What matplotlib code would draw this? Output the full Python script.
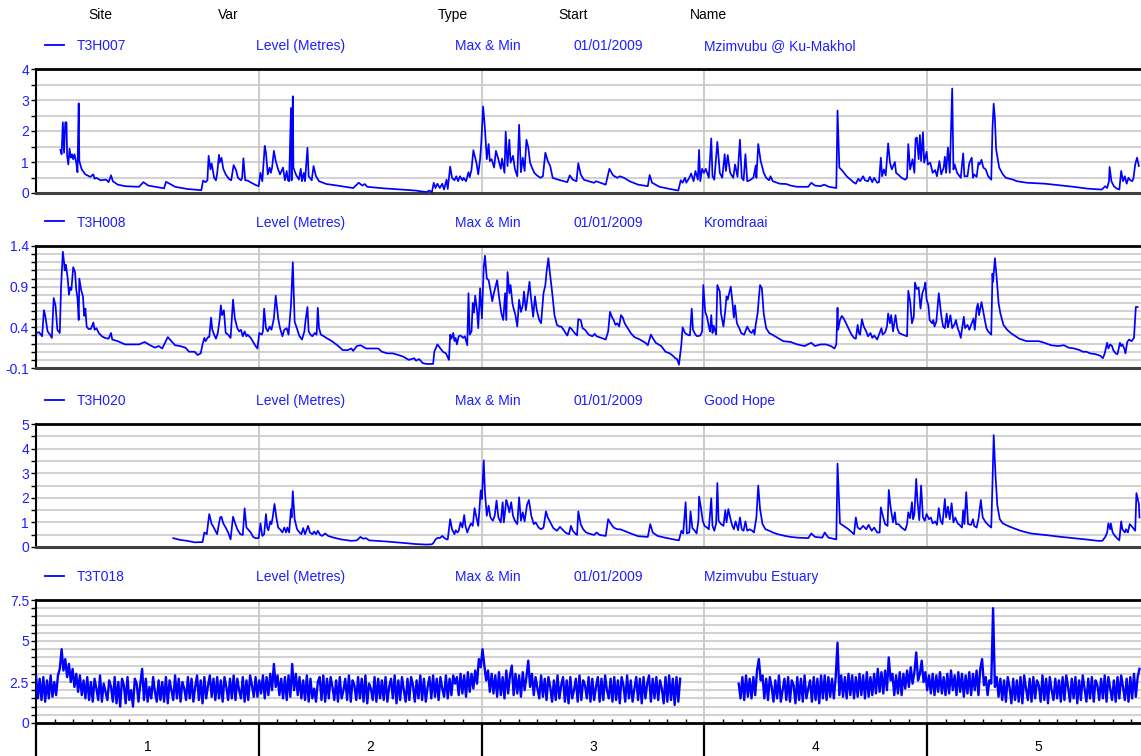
import numpy as np
import matplotlib
matplotlib.use("Agg")
import matplotlib.pyplot as plt
from matplotlib.ticker import FixedLocator, FuncFormatter
from matplotlib.lines import Line2D
import matplotlib.transforms as mtransforms

plt.rcParams['font.family'] = ['Liberation Sans', 'DejaVu Sans']

# ---------------- text content ----------------
header_cols = ['Site', 'Var', 'Type', 'Start', 'Name']
sites = ['T3H007', 'T3H008', 'T3H020', 'T3T018']
variables = ['Level (Metres)'] * 4
types = ['Max & Min'] * 4
starts = ['01/01/2009'] * 4
names = ['Mzimvubu @ Ku-Makhol', 'Kromdraai', 'Good Hope', 'Mzimvubu Estuary']
year_labels = ['1', '2', '3', '4', '5']

# ---------------- data (day since 01/01/2009, level in metres) ----------------
h007_day = [
    40, 42, 44, 46, 48, 50, 51, 53, 55, 57,
    59, 61, 63, 66, 68, 70, 71, 75, 81, 89,
    94, 96, 99, 106, 115, 119, 123, 126, 134, 146,
    169, 176, 184, 210, 213, 220, 228, 248, 271, 274,
    278, 281, 283, 286, 288, 292, 295, 297, 300, 301,
    304, 307, 311, 316, 320, 324, 328, 331, 336, 338,
    340, 343, 347, 353, 360, 365, 368, 371, 375, 377,
    380, 383, 385, 387, 390, 393, 397, 400, 405, 408,
    411, 413, 415, 418, 419, 421, 422, 426, 431, 434,
    436, 439, 441, 445, 447, 452, 455, 459, 464, 476,
    494, 520, 529, 535, 539, 543, 570, 599, 622, 640,
    645, 649, 652, 655, 658, 662, 666, 669, 673, 675,
    679, 682, 686, 689, 692, 695, 699, 701, 705, 709,
    711, 714, 717, 722, 725, 728, 730, 733, 736, 739,
    742, 744, 747, 751, 754, 758, 762, 764, 768, 770,
    773, 776, 778, 782, 785, 789, 792, 795, 798, 801,
    804, 807, 810, 813, 817, 821, 827, 831, 835, 839,
    843, 847, 856, 865, 871, 875, 880, 886, 889, 893,
    898, 906, 915, 918, 934, 940, 946, 953, 957, 964,
    973, 987, 1003, 1006, 1010, 1022, 1039, 1053, 1057, 1060,
    1064, 1066, 1071, 1074, 1078, 1081, 1085, 1087, 1089, 1092,
    1095, 1098, 1103, 1107, 1109, 1112, 1117, 1121, 1125, 1129,
    1131, 1134, 1138, 1143, 1146, 1150, 1154, 1157, 1160, 1163,
    1166, 1170, 1176, 1180, 1181, 1184, 1188, 1193, 1197, 1202,
    1204, 1208, 1219, 1230, 1237, 1248, 1266, 1271, 1277, 1286,
    1292, 1300, 1312, 1314, 1317, 1321, 1329, 1340, 1344, 1348,
    1351, 1356, 1359, 1364, 1367, 1371, 1374, 1379, 1382, 1385,
    1387, 1390, 1393, 1397, 1400, 1403, 1408, 1410, 1415, 1419,
    1425, 1428, 1430, 1433, 1437, 1440, 1442, 1444, 1447, 1449,
    1451, 1454, 1456, 1460, 1462, 1466, 1470, 1474, 1477, 1481,
    1484, 1488, 1490, 1492, 1495, 1498, 1502, 1504, 1506, 1510,
    1516, 1520, 1522, 1527, 1530, 1534, 1536, 1538, 1542, 1545,
    1547, 1550, 1553, 1557, 1561, 1566, 1568, 1570, 1572, 1574,
    1579, 1585, 1590, 1602, 1608, 1625, 1654, 1677, 1701, 1724,
    1747, 1753, 1756, 1759, 1760, 1763, 1767, 1772, 1776, 1779,
    1782, 1785, 1788, 1791, 1793, 1797, 1799, 1802, 1805, 1808,
]
h007_val = [
    1.39, 1.25, 2.28, 1.30, 2.28, 2.28, 1.20, 0.92, 1.43, 1.14,
    1.25, 1.09, 1.25, 0.98, 0.67, 2.89, 1.03, 0.76, 0.60, 0.52,
    0.60, 0.46, 0.49, 0.41, 0.43, 0.35, 0.57, 0.38, 0.27, 0.22,
    0.20, 0.35, 0.24, 0.15, 0.36, 0.29, 0.20, 0.13, 0.09, 0.40,
    0.35, 0.41, 1.20, 0.76, 0.95, 0.49, 0.41, 0.63, 1.23, 0.98,
    1.14, 0.78, 0.60, 0.46, 0.41, 0.90, 0.74, 0.49, 0.41, 0.49,
    1.12, 0.41, 0.40, 0.33, 0.26, 0.22, 0.65, 0.38, 1.52, 1.30,
    0.60, 0.82, 0.65, 0.82, 1.36, 1.03, 0.76, 0.60, 0.82, 0.41,
    0.71, 0.41, 0.38, 2.74, 0.41, 3.12, 0.82, 0.60, 0.43, 0.78,
    0.38, 0.65, 0.38, 1.46, 0.54, 0.41, 0.87, 0.54, 0.38, 0.29,
    0.24, 0.16, 0.33, 0.24, 0.29, 0.20, 0.15, 0.11, 0.08, 0.03,
    0.08, 0.02, 0.33, 0.16, 0.30, 0.16, 0.30, 0.11, 0.43, 0.13,
    0.85, 0.49, 0.41, 0.54, 0.38, 0.54, 0.41, 0.49, 0.38, 0.67,
    0.51, 0.76, 1.38, 0.98, 0.60, 1.09, 1.63, 2.79, 2.07, 1.09,
    1.58, 1.03, 1.09, 0.82, 1.36, 1.09, 0.78, 1.11, 0.65, 1.98,
    0.87, 1.72, 0.98, 1.20, 0.78, 0.54, 2.20, 0.67, 1.14, 0.71,
    1.72, 1.47, 0.98, 0.82, 0.65, 0.57, 0.49, 0.54, 1.30, 1.03,
    0.87, 0.49, 0.43, 0.38, 0.35, 0.57, 0.43, 0.38, 0.96, 0.60,
    0.43, 0.38, 0.33, 0.38, 0.27, 0.78, 0.57, 0.49, 0.54, 0.49,
    0.38, 0.27, 0.22, 0.58, 0.33, 0.20, 0.13, 0.08, 0.41, 0.33,
    0.49, 0.33, 0.49, 0.63, 0.38, 0.71, 0.43, 1.39, 0.38, 0.78,
    0.65, 0.78, 0.49, 1.76, 0.54, 0.43, 1.65, 0.65, 0.49, 1.25,
    0.71, 1.22, 0.65, 0.49, 0.92, 0.52, 1.72, 0.49, 0.41, 1.25,
    0.38, 0.41, 0.49, 0.89, 0.49, 1.58, 1.03, 0.65, 0.49, 0.41,
    0.54, 0.38, 0.30, 0.29, 0.24, 0.20, 0.20, 0.33, 0.24, 0.22,
    0.27, 0.20, 0.16, 2.66, 0.82, 0.74, 0.54, 0.35, 0.30, 0.46,
    0.38, 0.54, 0.41, 0.38, 0.52, 0.35, 0.49, 0.33, 0.35, 1.14,
    0.54, 0.76, 0.57, 1.60, 0.98, 0.76, 1.00, 0.65, 0.57, 0.49,
    0.43, 0.49, 1.58, 0.76, 1.09, 0.65, 1.76, 1.79, 1.09, 1.87,
    1.03, 1.96, 0.98, 1.33, 0.92, 0.98, 0.65, 0.74, 0.54, 1.03,
    0.60, 0.82, 1.17, 0.65, 1.47, 0.65, 3.37, 0.76, 0.92, 0.65,
    0.49, 1.28, 0.54, 0.54, 0.96, 1.14, 0.49, 0.60, 0.52, 0.98,
    0.92, 1.07, 0.82, 0.76, 0.54, 0.43, 2.07, 2.88, 2.39, 1.41,
    0.82, 0.60, 0.49, 0.43, 0.38, 0.33, 0.30, 0.25, 0.20, 0.14,
    0.11, 0.22, 0.16, 0.38, 0.84, 0.38, 0.22, 0.14, 0.11, 0.71,
    0.38, 0.54, 0.30, 0.49, 0.43, 0.38, 0.46, 0.92, 1.14, 0.87,
]

h008_day = [
    0, 5, 10, 13, 15, 19, 23, 26, 29, 32,
    35, 39, 41, 44, 46, 47, 49, 52, 54, 56,
    58, 61, 64, 66, 68, 70, 71, 74, 77, 79,
    81, 83, 86, 90, 94, 96, 99, 103, 108, 113,
    119, 123, 125, 134, 146, 160, 169, 178, 187, 195,
    201, 207, 216, 222, 228, 236, 245, 251, 260, 265,
    270, 273, 276, 278, 282, 284, 287, 289, 292, 295,
    298, 301, 303, 305, 308, 311, 315, 319, 323, 326,
    330, 333, 336, 339, 342, 345, 347, 352, 356, 360,
    363, 366, 370, 372, 374, 377, 380, 383, 386, 390,
    393, 397, 400, 404, 407, 411, 414, 418, 421, 424,
    428, 432, 436, 440, 442, 445, 447, 450, 453, 457,
    460, 462, 464, 467, 472, 476, 485, 494, 503, 511,
    517, 520, 526, 532, 541, 552, 561, 567, 576, 585,
    594, 602, 611, 620, 623, 628, 634, 640, 651, 653,
    658, 663, 667, 672, 677, 679, 681, 684, 686, 688,
    690, 693, 696, 700, 703, 707, 709, 711, 714, 716,
    718, 720, 723, 725, 728, 731, 734, 736, 739, 742,
    745, 748, 750, 753, 756, 759, 763, 766, 769, 771,
    773, 776, 778, 781, 783, 786, 789, 792, 795, 798,
    800, 803, 805, 809, 811, 815, 818, 821, 825, 828,
    832, 835, 837, 840, 842, 846, 850, 854, 858, 861,
    865, 868, 871, 875, 878, 883, 887, 889, 893, 896,
    900, 906, 912, 916, 919, 927, 934, 938, 941, 944,
    947, 950, 953, 956, 959, 962, 965, 970, 975, 981,
    990, 999, 1003, 1008, 1011, 1016, 1025, 1032, 1039, 1044,
    1048, 1051, 1054, 1058, 1060, 1064, 1068, 1072, 1075, 1077,
    1081, 1084, 1089, 1092, 1094, 1097, 1100, 1103, 1105, 1107,
    1109, 1111, 1115, 1117, 1121, 1123, 1127, 1130, 1132, 1134,
    1137, 1139, 1142, 1144, 1146, 1149, 1153, 1156, 1161, 1164,
    1166, 1170, 1173, 1176, 1178, 1180, 1183, 1185, 1187, 1190,
    1193, 1197, 1202, 1207, 1216, 1225, 1237, 1248, 1260, 1265,
    1271, 1277, 1286, 1295, 1303, 1309, 1312, 1314, 1315, 1318,
    1321, 1324, 1328, 1333, 1337, 1341, 1344, 1347, 1349, 1351,
    1354, 1357, 1361, 1364, 1368, 1371, 1374, 1379, 1383, 1386,
    1388, 1392, 1395, 1397, 1400, 1402, 1405, 1409, 1412, 1415,
    1421, 1428, 1430, 1433, 1436, 1439, 1441, 1444, 1447, 1450,
    1453, 1456, 1458, 1460, 1463, 1465, 1469, 1471, 1473, 1476,
    1480, 1484, 1487, 1490, 1493, 1495, 1499, 1502, 1506, 1508,
    1511, 1514, 1516, 1519, 1521, 1523, 1527, 1530, 1534, 1537,
    1539, 1542, 1544, 1546, 1550, 1552, 1554, 1558, 1561, 1566,
    1568, 1569, 1572, 1575, 1578, 1581, 1586, 1592, 1598, 1604,
    1612, 1624, 1635, 1644, 1653, 1664, 1676, 1685, 1693, 1702,
    1711, 1716, 1722, 1728, 1737, 1745, 1749, 1752, 1756, 1758,
    1761, 1764, 1766, 1770, 1773, 1777, 1779, 1781, 1784, 1786,
    1789, 1792, 1796, 1800, 1803, 1806,
]
h008_val = [
    0.33, 0.34, 0.29, 0.61, 0.55, 0.35, 0.31, 0.27, 0.76, 0.67,
    0.37, 0.33, 0.88, 1.33, 1.20, 1.10, 1.17, 1.00, 0.80, 0.89,
    0.86, 1.14, 1.08, 0.86, 0.76, 0.49, 1.00, 0.86, 0.78, 0.54,
    0.63, 0.41, 0.38, 0.38, 0.46, 0.37, 0.39, 0.33, 0.29, 0.27,
    0.26, 0.33, 0.25, 0.23, 0.19, 0.19, 0.19, 0.22, 0.18, 0.15,
    0.17, 0.14, 0.28, 0.23, 0.18, 0.17, 0.15, 0.10, 0.10, 0.06,
    0.08, 0.19, 0.27, 0.23, 0.28, 0.28, 0.52, 0.37, 0.31, 0.26,
    0.33, 0.49, 0.67, 0.55, 0.61, 0.33, 0.31, 0.27, 0.74, 0.51,
    0.39, 0.35, 0.37, 0.29, 0.35, 0.29, 0.31, 0.27, 0.22, 0.17,
    0.14, 0.33, 0.31, 0.35, 0.63, 0.39, 0.35, 0.41, 0.37, 0.51,
    0.79, 0.51, 0.39, 0.29, 0.37, 0.39, 0.31, 0.67, 1.20, 0.47,
    0.38, 0.29, 0.25, 0.35, 0.49, 0.65, 0.35, 0.31, 0.29, 0.33,
    0.31, 0.64, 0.39, 0.31, 0.29, 0.27, 0.23, 0.18, 0.12, 0.12,
    0.14, 0.11, 0.17, 0.18, 0.14, 0.14, 0.14, 0.10, 0.08, 0.08,
    0.06, 0.04, 0.00, 0.02, -0.01, 0.01, -0.04, -0.05, -0.05, 0.10,
    0.19, 0.14, 0.10, 0.08, 0.00, 0.31, 0.26, 0.33, 0.23, 0.27,
    0.19, 0.29, 0.30, 0.27, 0.29, 0.18, 0.82, 0.31, 0.35, 0.70,
    0.58, 0.79, 0.61, 0.39, 0.88, 0.51, 1.14, 1.28, 1.00, 0.98,
    0.86, 0.72, 0.80, 0.89, 0.98, 0.78, 0.57, 0.49, 0.82, 0.49,
    1.08, 0.82, 0.92, 0.70, 0.63, 0.55, 0.41, 0.74, 0.59, 0.67,
    0.84, 0.61, 0.72, 0.96, 0.80, 0.53, 0.78, 0.61, 0.49, 0.45,
    0.82, 0.92, 1.08, 1.25, 1.10, 0.84, 0.55, 0.43, 0.41, 0.41,
    0.37, 0.33, 0.30, 0.40, 0.38, 0.33, 0.30, 0.50, 0.49, 0.39,
    0.37, 0.31, 0.29, 0.32, 0.29, 0.27, 0.25, 0.35, 0.59, 0.53,
    0.49, 0.43, 0.45, 0.41, 0.55, 0.52, 0.45, 0.39, 0.33, 0.28,
    0.25, 0.21, 0.18, 0.31, 0.27, 0.21, 0.17, 0.10, 0.08, 0.05,
    0.02, 0.01, -0.06, 0.19, 0.40, 0.33, 0.31, 0.30, 0.63, 0.37,
    0.31, 0.29, 0.30, 0.35, 0.92, 0.59, 0.53, 0.41, 0.35, 0.55,
    0.33, 0.42, 0.31, 0.92, 0.84, 0.57, 0.41, 0.61, 0.78, 0.74,
    0.84, 0.90, 0.69, 0.52, 0.67, 0.45, 0.39, 0.33, 0.31, 0.37,
    0.41, 0.35, 0.33, 0.37, 0.31, 0.44, 0.57, 0.76, 0.92, 0.88,
    0.57, 0.39, 0.33, 0.31, 0.27, 0.23, 0.22, 0.19, 0.17, 0.19,
    0.21, 0.17, 0.19, 0.19, 0.17, 0.14, 0.19, 0.64, 0.37, 0.49,
    0.54, 0.51, 0.45, 0.37, 0.31, 0.27, 0.26, 0.43, 0.33, 0.31,
    0.50, 0.41, 0.35, 0.29, 0.33, 0.27, 0.30, 0.25, 0.33, 0.39,
    0.31, 0.34, 0.41, 0.57, 0.45, 0.55, 0.35, 0.55, 0.39, 0.33,
    0.31, 0.29, 0.85, 0.72, 0.45, 0.53, 0.95, 0.87, 0.89, 0.63,
    0.82, 0.88, 0.95, 0.74, 0.67, 0.49, 0.45, 0.49, 0.41, 0.47,
    0.82, 0.55, 0.41, 0.39, 0.57, 0.40, 0.55, 0.39, 0.44, 0.49,
    0.39, 0.33, 0.27, 0.43, 0.53, 0.39, 0.43, 0.37, 0.45, 0.51,
    0.37, 0.63, 0.69, 0.55, 0.71, 0.63, 0.55, 0.39, 0.35, 0.31,
    1.06, 0.96, 1.25, 1.00, 0.70, 0.57, 0.43, 0.37, 0.33, 0.30,
    0.26, 0.23, 0.23, 0.23, 0.21, 0.18, 0.17, 0.18, 0.15, 0.14,
    0.12, 0.10, 0.10, 0.08, 0.07, 0.05, 0.02, 0.08, 0.21, 0.14,
    0.19, 0.17, 0.12, 0.08, 0.07, 0.21, 0.17, 0.19, 0.14, 0.08,
    0.22, 0.25, 0.23, 0.27, 0.65, 0.65,
]

h020_day = [
    225, 236, 248, 260, 273, 276, 280, 284, 288, 290,
    294, 297, 300, 302, 304, 307, 311, 315, 319, 323,
    326, 330, 335, 339, 342, 345, 349, 352, 356, 360,
    365, 368, 371, 374, 377, 379, 381, 384, 386, 388,
    391, 394, 397, 400, 404, 407, 410, 412, 415, 418,
    419, 421, 424, 428, 432, 435, 438, 441, 446, 449,
    453, 456, 459, 462, 466, 469, 474, 479, 488, 500,
    517, 526, 532, 536, 541, 546, 576, 605, 622, 640,
    649, 652, 655, 659, 662, 666, 669, 673, 675, 679,
    682, 686, 688, 691, 693, 696, 699, 702, 704, 707,
    710, 713, 716, 719, 722, 725, 727, 729, 731, 734,
    736, 739, 742, 745, 749, 752, 755, 758, 762, 765,
    767, 771, 773, 776, 779, 782, 785, 789, 792, 795,
    798, 801, 805, 808, 812, 816, 819, 824, 828, 832,
    836, 839, 844, 848, 854, 859, 865, 869, 874, 877,
    880, 885, 887, 889, 893, 897, 902, 906, 915, 919,
    924, 934, 938, 942, 947, 953, 958, 967, 975, 987,
    1003, 1007, 1011, 1019, 1031, 1045, 1054, 1058, 1061, 1065,
    1067, 1071, 1073, 1076, 1080, 1083, 1086, 1087, 1090, 1093,
    1096, 1100, 1103, 1107, 1109, 1112, 1115, 1117, 1119, 1123,
    1127, 1130, 1132, 1135, 1138, 1141, 1144, 1147, 1151, 1154,
    1157, 1160, 1163, 1166, 1170, 1174, 1177, 1181, 1184, 1187,
    1191, 1196, 1202, 1208, 1216, 1228, 1237, 1248, 1266, 1271,
    1277, 1289, 1293, 1299, 1312, 1314, 1318, 1324, 1332, 1341,
    1344, 1347, 1351, 1356, 1361, 1365, 1370, 1374, 1379, 1383,
    1385, 1389, 1392, 1396, 1398, 1401, 1405, 1408, 1410, 1414,
    1419, 1425, 1428, 1430, 1433, 1436, 1438, 1440, 1443, 1445,
    1448, 1451, 1454, 1457, 1460, 1464, 1467, 1470, 1474, 1477,
    1480, 1483, 1486, 1490, 1492, 1495, 1498, 1501, 1504, 1507,
    1511, 1514, 1518, 1520, 1522, 1525, 1528, 1533, 1536, 1538,
    1542, 1545, 1549, 1552, 1557, 1561, 1566, 1568, 1570, 1573,
    1576, 1580, 1585, 1593, 1602, 1614, 1631, 1654, 1677, 1701,
    1724, 1741, 1748, 1753, 1756, 1758, 1761, 1762, 1765, 1770,
    1776, 1779, 1781, 1785, 1787, 1790, 1793, 1798, 1802, 1804,
    1808, 1809,
]
h020_val = [
    0.36, 0.29, 0.25, 0.19, 0.20, 0.59, 0.52, 1.34, 0.93, 0.86,
    0.66, 0.52, 0.96, 1.20, 1.23, 0.96, 0.79, 0.59, 0.31, 1.23,
    1.00, 0.72, 0.52, 0.49, 1.57, 0.79, 0.68, 0.59, 0.41, 0.36,
    0.36, 0.96, 0.45, 0.52, 1.34, 0.79, 0.68, 1.04, 0.93, 1.20,
    1.75, 1.20, 0.79, 0.72, 0.59, 0.79, 0.59, 0.79, 0.59, 1.54,
    1.20, 2.27, 1.13, 0.72, 0.59, 0.52, 0.77, 0.52, 0.86, 0.59,
    0.52, 0.63, 0.52, 0.66, 0.49, 0.45, 0.55, 0.45, 0.38, 0.31,
    0.25, 0.27, 0.41, 0.34, 0.36, 0.27, 0.22, 0.16, 0.12, 0.10,
    0.11, 0.18, 0.31, 0.38, 0.36, 0.45, 0.38, 0.31, 0.31, 1.13,
    0.72, 0.52, 0.68, 0.59, 0.66, 1.00, 0.79, 1.30, 0.86, 0.59,
    0.79, 0.96, 0.86, 1.58, 1.20, 0.86, 1.54, 2.30, 1.95, 3.52,
    2.23, 1.27, 1.68, 1.20, 1.07, 1.27, 1.89, 1.20, 1.00, 1.82,
    1.00, 1.91, 1.75, 1.41, 1.82, 1.27, 1.07, 0.93, 2.02, 1.07,
    1.41, 1.04, 1.72, 1.91, 1.27, 0.93, 1.00, 0.79, 0.72, 0.79,
    1.45, 1.20, 0.96, 0.77, 0.66, 0.82, 0.66, 0.57, 0.52, 0.86,
    0.66, 0.52, 0.49, 1.45, 0.93, 0.72, 0.59, 0.55, 0.49, 0.59,
    0.49, 0.45, 1.13, 0.96, 0.79, 0.72, 0.72, 0.63, 0.55, 0.44,
    0.41, 0.93, 0.59, 0.45, 0.38, 0.31, 0.27, 0.66, 0.55, 1.82,
    0.55, 0.59, 1.45, 0.77, 0.66, 0.55, 1.09, 2.05, 1.61, 1.07,
    0.86, 0.79, 0.72, 1.98, 0.86, 0.66, 0.96, 2.60, 1.07, 0.93,
    0.86, 1.50, 1.00, 1.54, 1.20, 0.90, 0.72, 1.04, 0.68, 1.20,
    0.72, 0.66, 1.04, 0.66, 0.72, 0.66, 0.59, 1.20, 2.50, 1.54,
    0.93, 0.72, 0.66, 0.59, 0.52, 0.45, 0.41, 0.38, 0.36, 0.55,
    0.41, 0.38, 0.59, 0.38, 0.31, 3.39, 0.96, 0.86, 0.72, 0.52,
    1.20, 0.79, 0.72, 0.86, 0.72, 0.90, 0.66, 0.79, 0.59, 0.59,
    1.61, 1.20, 0.93, 0.86, 2.32, 1.61, 1.00, 1.41, 0.93, 0.93,
    0.79, 0.68, 0.93, 1.41, 1.17, 1.82, 1.13, 1.34, 2.77, 1.89,
    1.09, 2.50, 1.20, 1.07, 1.34, 1.13, 1.20, 0.96, 1.04, 0.90,
    1.58, 1.07, 0.93, 1.95, 1.20, 1.64, 1.13, 1.78, 1.00, 1.20,
    0.96, 0.90, 0.79, 1.50, 0.93, 2.23, 0.93, 0.90, 1.13, 0.86,
    0.79, 1.13, 1.91, 1.20, 1.00, 0.90, 0.79, 2.57, 4.55, 2.91,
    1.68, 1.13, 0.96, 0.86, 0.77, 0.66, 0.55, 0.49, 0.42, 0.36,
    0.30, 0.25, 0.25, 0.41, 0.59, 0.96, 0.72, 0.96, 0.59, 0.41,
    0.27, 1.04, 0.72, 0.59, 0.72, 0.59, 0.93, 0.79, 0.66, 2.19,
    1.75, 1.20,
]

# T3T018: daily max/min tidal levels sampled every 3 days (nan = no record)
t018_step_days = 3
nan = float('nan')
t018_val = [
    2.9, 1.5, 2.7, 1.4, 2.8, 1.3, 2.6, 1.5, 2.9, 1.6,
    2.5, 1.7, 2.9, 3.3, 4.5, 3.2, 3.9, 2.8, 3.6, 2.5,
    3.3, 2.2, 3.0, 1.9, 2.9, 1.7, 2.6, 1.5, 2.8, 1.4,
    2.5, 1.3, 2.7, 2.1, 1.4, 2.9, 1.3, 2.4, 1.9, 1.4,
    2.6, 2.2, 1.3, 2.8, 1.2, 2.5, 1.0, 2.7, 2.3, 1.2,
    2.8, 1.4, 2.0, 1.0, 2.7, 2.4, 1.3, 2.4, 3.3, 1.4,
    2.7, 1.3, 2.2, 1.5, 2.8, 1.9, 1.3, 2.6, 1.4, 2.5,
    1.3, 2.8, 1.2, 2.6, 2.0, 1.4, 2.9, 1.5, 2.7, 1.3,
    2.5, 2.1, 1.4, 2.8, 1.5, 2.7, 1.3, 2.2, 2.9, 1.4,
    2.6, 1.2, 2.8, 1.5, 2.3, 2.9, 1.6, 2.7, 1.4, 2.8,
    1.5, 2.6, 1.3, 2.8, 2.2, 1.4, 2.7, 1.5, 2.9, 1.4,
    2.7, 2.0, 1.5, 2.8, 1.3, 2.6, 1.4, 2.9, 2.3, 1.6,
    2.8, 1.6, 2.6, 1.8, 2.9, 1.5, 2.8, 1.7, 3.0, 2.0,
    3.6, 2.2, 2.9, 1.7, 2.7, 1.5, 2.8, 1.4, 2.9, 1.6,
    3.6, 2.0, 3.0, 1.7, 2.8, 1.5, 2.6, 1.4, 2.9, 1.3,
    2.7, 1.5, 2.1, 1.3, 2.5, 2.8, 1.4, 2.9, 1.3, 2.7,
    1.5, 2.8, 2.2, 1.4, 2.6, 1.3, 2.8, 1.5, 2.0, 2.7,
    1.4, 2.9, 1.3, 2.6, 2.3, 1.4, 2.8, 1.5, 2.7, 1.3,
    2.9, 1.2, 2.4, 2.1, 1.4, 2.8, 1.3, 2.7, 1.5, 2.6,
    1.4, 2.8, 1.3, 2.2, 2.7, 1.5, 2.9, 1.2, 2.6, 1.4,
    2.8, 2.0, 1.3, 2.7, 1.4, 2.8, 2.3, 1.3, 2.6, 1.5,
    2.9, 1.4, 2.7, 1.3, 2.2, 2.8, 1.5, 2.9, 1.6, 2.7,
    1.4, 2.8, 2.1, 1.6, 2.9, 1.5, 2.7, 1.7, 2.9, 2.4,
    2.8, 1.7, 3.0, 1.8, 2.9, 1.6, 3.1, 1.9, 3.0, 2.1,
    3.2, 2.4, 3.9, 3.4, 4.5, 3.5, 2.6, 3.2, 1.9, 3.0,
    1.8, 2.9, 1.6, 3.1, 1.7, 2.8, 1.5, 3.2, 1.8, 2.9,
    3.5, 1.7, 3.0, 1.8, 2.9, 1.6, 3.1, 2.0, 2.8, 3.8,
    2.2, 3.0, 1.7, 2.8, 2.1, 1.5, 2.9, 1.6, 2.7, 1.4,
    2.8, 2.2, 1.3, 2.6, 1.4, 2.9, 1.5, 2.3, 2.8, 1.3,
    2.6, 1.2, 2.8, 1.5, 2.0, 2.7, 1.3, 2.9, 1.4, 2.6,
    2.3, 1.5, 2.8, 1.3, 2.7, 1.4, 2.2, 2.8, 1.3, 2.7,
    1.4, 2.9, 2.0, 1.5, 2.7, 1.3, 2.8, 1.4, 2.6, 1.2,
    2.8, 2.3, 1.3, 2.9, 1.5, 2.6, 1.3, 2.1, 2.8, 1.4,
    2.7, 1.2, 2.8, 1.5, 2.4, 2.9, 1.3, 2.7, 1.5, 2.8,
    1.4, 2.6, 2.1, 1.2, 2.8, 1.3, 2.9, 1.4, 2.7, 1.1,
    2.8, 1.3, 2.7, nan, nan, nan, nan, nan, nan, nan,
    nan, nan, nan, nan, nan, nan, nan, nan, nan, nan,
    nan, nan, nan, nan, nan, nan, nan, nan, nan, nan,
    nan, nan, nan, nan, 2.4, 1.5, 2.8, 1.4, 2.9, 1.6,
    2.7, 1.5, 2.8, 1.7, 3.2, 3.9, 2.6, 2.9, 1.5, 2.7,
    1.4, 2.8, 2.2, 1.3, 2.6, 1.5, 2.9, 1.3, 2.0, 2.7,
    1.4, 2.8, 1.3, 2.6, 2.3, 1.2, 2.8, 1.4, 2.7, 1.3,
    2.9, 1.5, 2.1, 2.6, 1.3, 2.8, 1.4, 2.7, 1.2, 2.9,
    1.5, 2.9, 1.4, 2.8, 1.6, 2.7, 1.5, 2.8, 4.9, 1.7,
    2.9, 1.6, 2.8, 1.5, 3.0, 1.7, 2.9, 1.5, 2.8, 1.6,
    3.0, 1.7, 2.9, 1.5, 3.1, 1.6, 2.8, 1.7, 3.0, 1.8,
    3.3, 1.9, 3.1, 1.8, 3.2, 2.0, 4.0, 2.6, 3.0, 1.7,
    2.9, 1.8, 3.1, 1.7, 3.0, 2.1, 3.2, 2.2, 3.4, 2.4,
    3.1, 4.3, 2.6, 3.0, 3.8, 2.5, 3.1, 2.0, 2.9, 1.8,
    3.0, 1.7, 2.9, 1.9, 3.1, 1.8, 2.8, 1.7, 3.0, 1.8,
    3.2, 2.0, 2.9, 1.7, 3.1, 1.9, 3.0, 1.6, 2.9, 1.8,
    3.1, 1.7, 3.0, 2.0, 3.2, 1.7, 3.3, 3.9, 2.3, 2.8,
    1.7, 2.6, 2.4, 7.0, 2.2, 2.8, 1.6, 2.7, 1.4, 2.6,
    1.3, 2.8, 2.2, 1.2, 2.7, 1.4, 2.6, 1.3, 2.8, 1.2,
    2.9, 2.1, 1.4, 2.7, 1.3, 2.8, 1.5, 2.6, 2.3, 1.3,
    2.9, 1.4, 2.7, 1.2, 2.8, 2.0, 1.4, 2.7, 1.5, 2.6,
    1.3, 2.8, 1.4, 2.9, 2.2, 1.3, 2.7, 1.5, 2.8, 1.2,
    2.6, 1.4, 2.9, 2.1, 1.3, 2.7, 1.5, 2.8, 1.3, 2.6,
    2.3, 1.4, 2.7, 1.5, 2.9, 1.3, 2.8, 2.1, 1.4, 2.6,
    1.3, 2.8, 1.5, 2.9, 2.2, 1.4, 2.7, 1.3, 2.8, 1.5,
    3.0, 1.6, 2.8, 3.3,
]
t018_day = np.arange(len(t018_val)) * t018_step_days

# y-axis settings per panel: (min, max), labelled ticks, grid step
y_limits = [(0, 4), (-0.1, 1.4), (0, 5), (0, 7.5)]
y_major = [[0, 1, 2, 3, 4], [-0.1, 0.4, 0.9, 1.4], [0, 1, 2, 3, 4, 5], [0, 2.5, 5, 7.5]]
y_grid_step = [0.5, 0.1, 0.5, 0.5]

series = [
    (h007_day, h007_val),
    (h008_day, h008_val),
    (h020_day, h020_val),
    (list(t018_day), t018_val),
]
line_widths = [1.25, 1.25, 1.25, 1.7]

# ---------------- figure ----------------
W, H = 1141, 756
fig = plt.figure(figsize=(W / 100, H / 100), dpi=100)

BLUE = '#0000ff'
TXT_BLUE = '#1e1eff'
YEAR = 365.25
XMAX = 1811.5
panel_px = [(69, 193), (246, 368), (424, 547), (600, 723)]
LEFT = 36


def fx(p):
    return p / W


def fy(p):
    return 1 - p / H


FS = 10

# top header row
for txt, xp in zip(header_cols, [88, 218, 438, 558, 690]):
    fig.text(fx(xp), fy(19), txt, ha='left', va='baseline', fontsize=FS, color='black')

year_bounds = [YEAR * k for k in range(len(year_labels))]

for i, (top, bot) in enumerate(panel_px):
    ax = fig.add_axes([fx(LEFT), fy(bot), fx(W) - fx(LEFT), (bot - top) / H])
    d, v = series[i]
    ax.plot(d, v, color=BLUE, lw=line_widths[i], zorder=3)
    ax.set_xlim(0, XMAX)
    lo, hi = y_limits[i]
    ax.set_ylim(lo, hi)

    step = y_grid_step[i]
    n = int(round((hi - lo) / step))
    gridvals = [round(lo + k * step, 3) for k in range(n + 1)]
    ax.yaxis.set_major_locator(FixedLocator(y_major[i]))
    ax.yaxis.set_minor_locator(FixedLocator(gridvals))
    ax.yaxis.set_major_formatter(FuncFormatter(lambda val, pos: f"{val:g}"))
    for g in gridvals[1:-1]:
        ax.axhline(g, color='#d2d2d2', lw=1.5, zorder=1)
    for b in year_bounds[1:]:
        ax.axvline(b, color='#c8c8c8', lw=1.3, zorder=1)

    ax.tick_params(axis='y', which='both', direction='out', length=3.5, width=1.0,
                   color='black', labelcolor=TXT_BLUE, labelsize=FS, pad=1.5)

    ax.spines['right'].set_visible(False)
    ax.spines['top'].set_linewidth(2.0)
    ax.spines['top'].set_color('black')
    ax.spines['left'].set_linewidth(1.5)
    ax.spines['left'].set_color('black')

    if i < 3:
        ax.spines['bottom'].set_color('#404040')
        ax.spines['bottom'].set_linewidth(2.2)
        ax.tick_params(axis='x', which='both', length=0, labelbottom=False)
    else:
        ax.spines['bottom'].set_color('black')
        ax.spines['bottom'].set_linewidth(2.0)
        ax.xaxis.set_major_locator(FixedLocator(year_bounds))
        months = [YEAR / 12 * k for k in range(1, 60) if k % 12 != 0]
        ax.xaxis.set_minor_locator(FixedLocator(months))
        ax.tick_params(axis='x', which='major', direction='out', length=24.5, width=1.6,
                       color='black', labelbottom=False)
        ax.tick_params(axis='x', which='minor', direction='in', length=3, width=1.0,
                       color='black')
        trans = mtransforms.blended_transform_factory(ax.transData, ax.transAxes)
        for k, lab in enumerate(year_labels):
            ax.text(YEAR * (k + 0.5), -24.0 / (bot - top), lab, transform=trans,
                    ha='center', va='center', fontsize=FS, color='black')

    # panel header row
    base = top - 19
    fig.add_artist(Line2D([fx(45), fx(64)], [fy(base - 5.5), fy(base - 5.5)],
                          color=BLUE, lw=1.3, transform=fig.transFigure))
    for txt, xp in zip([sites[i], variables[i], types[i], starts[i], names[i]],
                       [77, 256, 455, 574, 704]):
        fig.text(fx(xp), fy(base), txt, ha='left', va='baseline', fontsize=FS, color=TXT_BLUE)

fig.savefig('out.png', dpi=100)
